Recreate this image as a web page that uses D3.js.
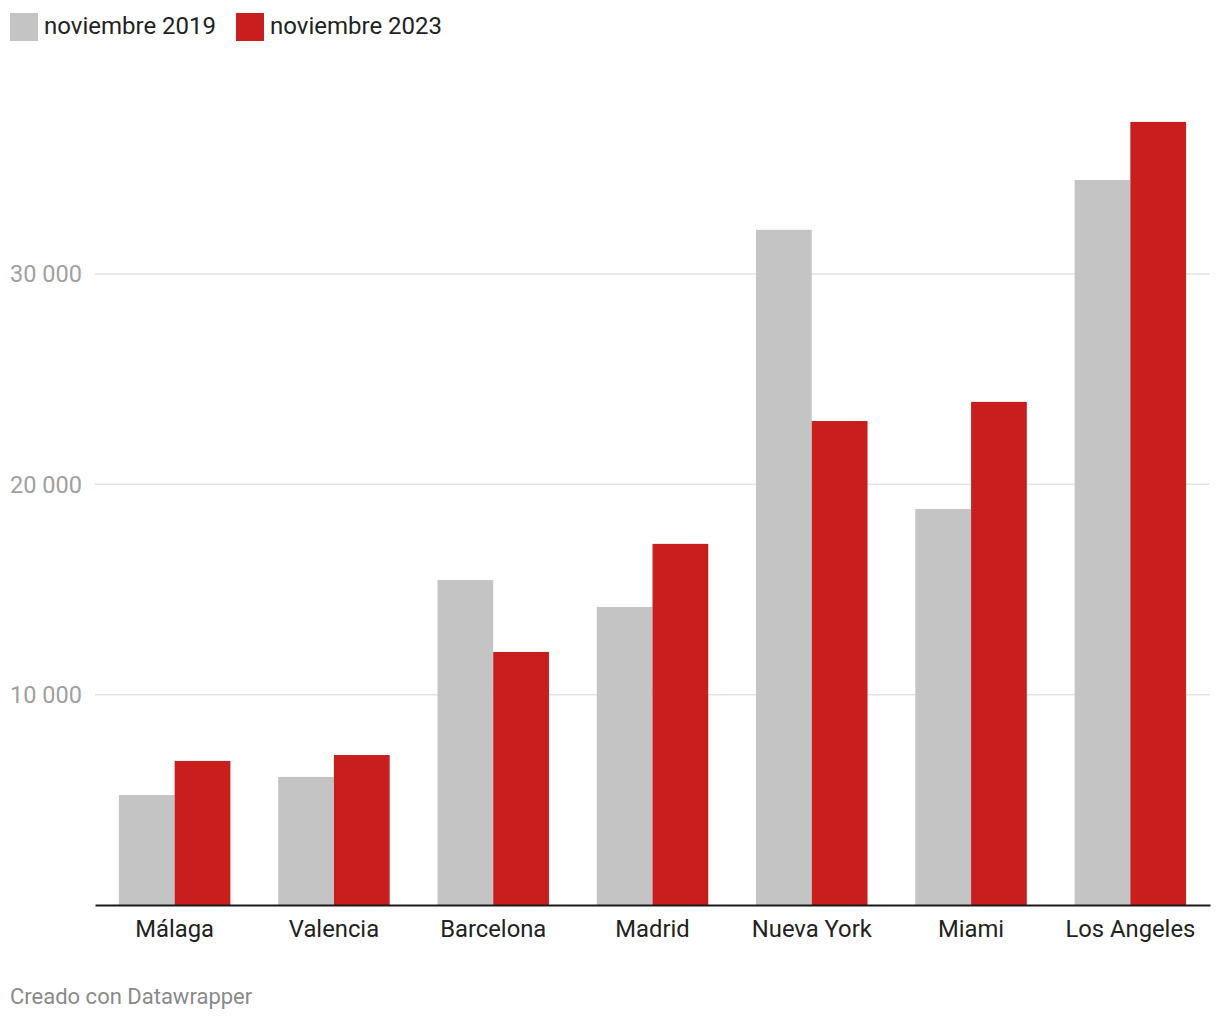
<!DOCTYPE html>
<html>
<head>
<meta charset="utf-8">
<script src="https://cdn.jsdelivr.net/npm/d3@7"></script>
<style>
	body { margin: 0; background: #fff; font-family: Roboto, "Noto Sans", sans-serif; }
</style>
</head>
<body>
<div id="chart-area"></div>
<script>
// chart data
let cities = ["Málaga", "Valencia", "Barcelona", "Madrid", "Nueva York", "Miami", "Los Angeles"];
let series = ["noviembre 2019", "noviembre 2023"];
let values2019 = [5230, 6090, 15450, 14170, 32100, 18830, 34470];
let values2023 = [6850, 7130, 12030, 17170, 23010, 23920, 37230];
let yTicks = [10000, 20000, 30000];
let colors = ["#c4c4c4", "#c91e1e"];

let width = 1220, height = 1020;
let margin = {top: 64, right: 10, bottom: 115, left: 95};

let svg = d3.select("#chart-area").append("svg")
	.attr("width", width)
	.attr("height", height);

let fmt = d3.formatLocale({decimal: ",", thousands: " ", grouping: [3], currency: ["", ""]}).format(",d");

let x0 = d3.scaleBand()
	.domain(cities)
	.range([margin.left, width - margin.right])
	.paddingInner(0.3)
	.paddingOuter(0.15);

let x1 = d3.scaleBand()
	.domain(series)
	.range([0, x0.bandwidth()]);

let y = d3.scaleLinear()
	.domain([0, 30000])
	.range([height - margin.bottom, 274]);

// gridlines + labels
let grid = svg.append("g");
grid.selectAll("line")
	.data(yTicks)
	.enter().append("line")
	.attr("x1", margin.left)
	.attr("x2", width - margin.right)
	.attr("y1", d => y(d))
	.attr("y2", d => y(d))
	.attr("stroke", "#e3e3e3")
	.attr("stroke-width", 1.5);

grid.selectAll("text")
	.data(yTicks)
	.enter().append("text")
	.attr("x", 10)
	.attr("y", d => y(d))
	.attr("dy", "0.35em")
	.attr("fill", "#a0a0a0")
	.style("font-size", "23.5px")
	.text(d => fmt(d));

// bars
let rows = cities.map((c, i) => ({city: c, vals: [values2019[i], values2023[i]]}));

let groups = svg.selectAll(".grp")
	.data(rows)
	.enter().append("g")
	.attr("class", "grp")
	.attr("transform", d => "translate(" + x0(d.city) + ",0)");

groups.selectAll("rect")
	.data(d => d.vals.map((v, j) => ({s: series[j], v: v, j: j})))
	.enter().append("rect")
	.attr("x", d => x1(d.s))
	.attr("y", d => y(d.v))
	.attr("width", x1.bandwidth())
	.attr("height", d => y(0) - y(d.v))
	.attr("fill", d => colors[d.j]);

// x axis
let xAxis = svg.append("g")
	.attr("transform", "translate(0," + y(0) + ")")
	.call(d3.axisBottom(x0).tickSize(0).tickPadding(15));
xAxis.select(".domain")
	.attr("stroke", "#1a1a1a")
	.attr("stroke-width", 2);
xAxis.selectAll("text")
	.attr("fill", "#222")
	.style("font-family", "Roboto, sans-serif")
	.style("font-size", "23.8px");

// legend
let legendX = [10, 236];
let legend = svg.selectAll(".leg")
	.data(series)
	.enter().append("g")
	.attr("class", "leg")
	.attr("transform", (d, i) => "translate(" + legendX[i] + ",13)");
legend.append("rect")
	.attr("width", 28)
	.attr("height", 28)
	.attr("fill", (d, i) => colors[i]);
legend.append("text")
	.attr("x", 34)
	.attr("y", 13)
	.attr("dy", "0.35em")
	.attr("fill", "#222")
	.style("font-size", "24px")
	.text(d => d);

// footer
svg.append("text")
	.attr("x", 10)
	.attr("y", 1004)
	.attr("fill", "#8a8a8a")
	.style("font-size", "22px")
	.text("Creado con Datawrapper");
</script>
</body>
</html>
